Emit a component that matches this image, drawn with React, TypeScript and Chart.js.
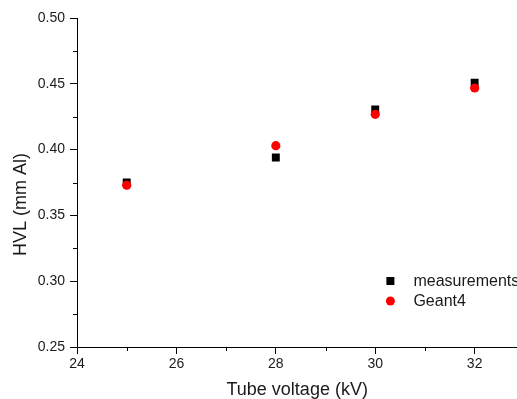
import React, { useEffect, useRef } from "react";
import { Chart, registerables } from "chart.js";

Chart.register(...registerables);

const voltages = [25, 28, 30, 32];
const measurements = [0.375, 0.394, 0.4305, 0.4508];
const geant4 = [0.373, 0.403, 0.4268, 0.4468];
const xTicks = [24, 26, 28, 30, 32];
const xMinorTicks = [25, 27, 29, 31];
const yMinorTicks = [0.275, 0.325, 0.375, 0.425, 0.475];
const yTitle = "HVL (mm Al)";

const FONT = "'Liberation Sans', Arial, sans-serif";
const TEXT = "#1a1a1a";

const minorTicksPlugin = {
  id: "minorTicks",
  afterDraw(chart: any) {
    const ctx = chart.ctx;
    const xs = chart.scales.x;
    const ys = chart.scales.y;
    const area = chart.chartArea;
    ctx.save();
    ctx.strokeStyle = "#000";
    ctx.lineWidth = 1;
    ctx.beginPath();
    xMinorTicks.forEach((v) => {
      const px = Math.round(xs.getPixelForValue(v)) + 0.5;
      ctx.moveTo(px, area.bottom);
      ctx.lineTo(px, area.bottom + 4);
    });
    yMinorTicks.forEach((v) => {
      const py = Math.round(ys.getPixelForValue(v)) + 0.5;
      ctx.moveTo(area.left, py);
      ctx.lineTo(area.left - 4, py);
    });
    ctx.stroke();
    ctx.restore();
  },
};

const yTitlePlugin = {
  id: "yTitle",
  afterDraw(chart: any) {
    const ctx = chart.ctx;
    const area = chart.chartArea;
    ctx.save();
    ctx.translate(21.5, (area.top + area.bottom) / 2 + 22);
    ctx.rotate(-Math.PI / 2);
    ctx.font = `18px ${FONT}`;
    ctx.fillStyle = TEXT;
    ctx.textAlign = "center";
    ctx.textBaseline = "middle";
    ctx.fillText(yTitle, 0, 0);
    ctx.restore();
  },
};

const legendPlugin = {
  id: "insideLegend",
  afterDraw(chart: any) {
    const ctx = chart.ctx;
    const area = chart.chartArea;
    const markerX = area.right - 127;
    const textX = area.right - 104;
    const rows = [area.bottom - 66, area.bottom - 46];
    ctx.save();
    ctx.font = `16px ${FONT}`;
    ctx.textBaseline = "middle";
    ctx.textAlign = "left";
    chart.data.datasets.forEach((ds: any, i: number) => {
      const y = rows[i];
      ctx.fillStyle = ds.backgroundColor;
      if (ds.pointStyle === "rect") {
        ctx.fillRect(markerX - 4, y - 4, 8, 8);
      } else {
        ctx.beginPath();
        ctx.arc(markerX, y, 4.5, 0, Math.PI * 2);
        ctx.fill();
      }
      ctx.fillStyle = TEXT;
      ctx.fillText(ds.label, textX, y + 1);
    });
    ctx.restore();
  },
};

export default function App() {
  const ref = useRef<HTMLCanvasElement | null>(null);

  useEffect(() => {
    document.body.style.margin = "0";
    const canvas = ref.current;
    if (!canvas) return;
    const chart = new Chart(canvas, {
      type: "scatter",
      data: {
        datasets: [
          {
            label: "measurements",
            data: voltages.map((x, i) => ({ x, y: measurements[i] })),
            backgroundColor: "#000000",
            borderWidth: 0,
            pointStyle: "rect",
            pointRadius: 5.6,
            order: 1,
          },
          {
            label: "Geant4",
            data: voltages.map((x, i) => ({ x, y: geant4[i] })),
            backgroundColor: "#ff0000",
            borderWidth: 0,
            pointStyle: "circle",
            pointRadius: 4.6,
            order: 0,
          },
        ],
      },
      options: {
        animation: false,
        responsive: false,
        layout: { padding: { top: 18, right: 0, left: 0, bottom: 0 } },
        plugins: {
          legend: { display: false },
          tooltip: { enabled: false },
        },
        scales: {
          x: {
            type: "linear",
            min: 24,
            max: 32.86,
            afterBuildTicks: (scale: any) => {
              scale.ticks = xTicks.map((v) => ({ value: v }));
            },
            afterFit: (scale: any) => {
              scale.height = 52;
            },
            border: { display: true, color: "#000", width: 1 },
            grid: {
              drawOnChartArea: false,
              drawTicks: true,
              tickLength: 7,
              color: "#000",
            },
            ticks: {
              padding: 2,
              color: TEXT,
              font: { family: FONT, size: 14 },
              callback: (v: any) => String(v),
            },
            title: {
              display: true,
              text: "Tube voltage (kV)",
              color: TEXT,
              font: { family: FONT, size: 18, lineHeight: 1 },
              padding: { top: 0, bottom: 0 },
            },
          },
          y: {
            type: "linear",
            min: 0.25,
            max: 0.5,
            ticks: {
              stepSize: 0.05,
              padding: 5,
              color: TEXT,
              font: { family: FONT, size: 14 },
              callback: (v: any) => Number(v).toFixed(2),
            },
            afterFit: (scale: any) => {
              scale.width = 77;
            },
            border: { display: true, color: "#000", width: 1 },
            grid: {
              drawOnChartArea: false,
              drawTicks: true,
              tickLength: 7,
              color: "#000",
            },
            title: { display: false },
          },
        },
      },
      plugins: [minorTicksPlugin, yTitlePlugin, legendPlugin],
    });
    return () => chart.destroy();
  }, []);

  return (
    <div style={{ width: 517, height: 399, overflow: "hidden", background: "#fff" }}>
      <canvas ref={ref} width={523} height={399} style={{ display: "block" }} />
    </div>
  );
}
